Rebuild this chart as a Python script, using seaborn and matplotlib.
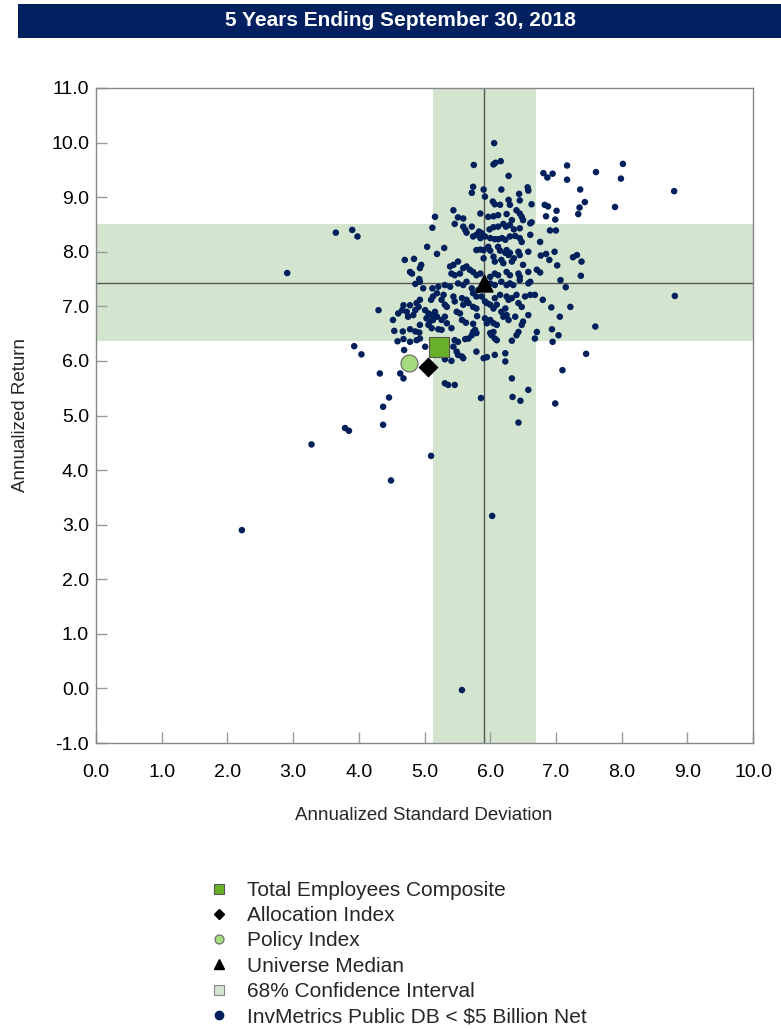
import matplotlib
matplotlib.use("Agg")
import matplotlib.pyplot as plt
from matplotlib import font_manager
from matplotlib.lines import Line2D
from matplotlib.patches import Rectangle
import seaborn as sns
import pandas as pd

# ---------------- data ----------------
title = "5 Years Ending September 30, 2018"
x_label = "Annualized Standard Deviation"
y_label = "Annualized Return"
x_ticks = [0.0, 1.0, 2.0, 3.0, 4.0, 5.0, 6.0, 7.0, 8.0, 9.0, 10.0]
y_ticks = [-1.0, 0.0, 1.0, 2.0, 3.0, 4.0, 5.0, 6.0, 7.0, 8.0, 9.0, 10.0, 11.0]

universe_sd = [
    5.74, 5.72, 5.90, 5.92, 6.17, 6.57, 6.58, 6.44, 6.04, 6.07, 6.15, 6.28, 6.30, 6.45, 6.63,
    5.44, 5.85, 5.97, 6.05, 6.12, 6.25, 6.40, 6.45, 6.48, 6.50, 6.61, 6.63, 5.51, 5.59, 5.46,
    5.59, 5.62, 5.64, 5.72, 5.87, 5.83, 5.99, 6.05, 6.12, 6.20, 6.24, 6.30, 6.33, 6.36, 6.45,
    5.74, 5.79, 5.85, 5.92, 6.00, 6.07, 6.12, 6.18, 6.23, 6.30, 6.38, 6.45, 6.48, 6.61, 5.30,
    5.79, 5.85, 5.90, 5.97, 6.00, 6.12, 6.15, 6.25, 6.30, 6.28, 6.23, 6.43, 6.45, 6.58, 5.90,
    6.05, 6.07, 6.17, 6.20, 6.33, 6.36, 6.50, 5.51, 5.44, 5.39, 5.59, 5.64, 5.69, 5.74, 5.54,
    5.46, 5.41, 5.79, 5.85, 6.07, 6.12, 6.25, 6.30, 6.43, 6.45, 6.00, 6.58, 6.71, 6.76,
    5.31, 5.39, 5.51, 5.59, 5.64, 5.72, 5.74, 5.79, 5.82, 6.00, 6.07, 6.17, 6.25, 6.30, 6.35,
    6.45, 6.58, 6.61, 5.29, 5.26, 5.44, 5.46, 5.57, 5.64, 5.87, 5.92, 5.95, 6.07, 6.15, 6.25,
    6.28, 6.33, 6.40, 6.53, 6.61, 6.68, 6.43, 6.48, 5.31, 5.34, 5.49, 5.59, 5.67, 5.74, 5.79,
    6.00, 6.05, 6.10, 6.17, 6.23, 6.25, 5.31, 5.26, 5.34, 5.54, 5.57, 5.80, 5.92, 5.95, 6.00,
    5.63, 5.74, 6.05, 6.10, 6.20, 6.28, 6.38, 6.58, 6.48, 6.50, 5.74, 5.79, 5.72, 5.77, 6.05,
    6.02, 6.00, 6.43, 6.40, 5.41, 5.26, 6.71, 6.07, 6.10, 6.33, 5.46, 5.51, 5.62, 5.67, 5.44,
    6.68, 5.49, 5.51, 5.57, 5.59, 5.79, 6.23, 5.31, 5.41, 5.90, 5.95, 6.07, 6.23,
    5.75, 5.16, 5.12, 5.04, 5.19, 3.65, 3.90, 3.98, 4.70, 4.84, 4.95, 4.93, 4.78, 4.81, 4.92,
    6.06, 6.05, 6.08, 6.16, 6.28, 6.81, 6.87, 6.95, 7.17, 7.17, 7.61, 8.02, 7.99, 7.37, 7.44,
    7.36, 7.34, 7.90, 6.83, 6.88, 7.01, 6.85, 6.99, 6.91, 7.00, 6.77, 6.85, 6.90, 6.98, 7.02,
    7.26, 7.32, 7.39, 7.38, 6.76,
    4.86, 4.93, 4.98, 5.12, 5.21, 5.19, 5.13, 5.10, 4.93, 4.88, 4.91, 4.86, 4.78, 4.68, 4.66,
    4.60, 4.30, 4.52, 4.73, 4.75, 4.83, 5.01, 5.06, 5.11, 5.16, 5.03, 5.08, 5.13, 5.19, 5.06,
    5.11, 4.54, 4.67, 4.78, 4.86, 4.92, 4.93, 5.21, 4.59, 4.68, 4.78, 4.88, 4.93, 5.01, 4.69,
    4.04, 3.93, 4.32, 4.63, 4.68, 4.46, 4.37, 5.31, 5.36, 5.46, 5.86,
    7.07, 7.15, 6.80, 6.93, 7.22, 7.06, 7.60, 6.94, 7.04, 6.95, 7.46, 7.10, 6.99, 6.33, 6.58,
    6.34, 6.46, 6.43, 4.37, 3.79, 3.85, 3.28, 5.10, 4.49, 6.03, 2.22, 2.91, 5.57, 8.80, 8.81,
]
universe_ret = [
    9.19, 9.08, 9.14, 9.01, 9.14, 9.18, 9.12, 9.06, 8.92, 8.87, 8.86, 8.95, 8.86, 8.94, 8.87,
    8.76, 8.70, 8.64, 8.65, 8.67, 8.69, 8.76, 8.70, 8.64, 8.58, 8.52, 8.54, 8.63, 8.61, 8.51,
    8.46, 8.40, 8.35, 8.46, 8.34, 8.37, 8.41, 8.45, 8.46, 8.51, 8.46, 8.49, 8.58, 8.41, 8.43,
    8.28, 8.31, 8.25, 8.28, 8.25, 8.23, 8.23, 8.25, 8.22, 8.28, 8.29, 8.25, 8.18, 8.31, 8.07,
    8.03, 8.04, 8.03, 8.09, 8.02, 8.09, 8.02, 8.03, 7.98, 7.94, 7.98, 8.00, 7.94, 8.00, 7.88,
    7.91, 7.82, 7.85, 7.79, 7.82, 7.88, 7.76, 7.82, 7.76, 7.73, 7.70, 7.73, 7.67, 7.63, 7.60,
    7.57, 7.60, 7.57, 7.60, 7.60, 7.57, 7.63, 7.57, 7.60, 7.54, 7.54, 7.63, 7.67, 8.18,
    7.39, 7.36, 7.42, 7.39, 7.45, 7.33, 7.24, 7.18, 7.30, 7.42, 7.39, 7.45, 7.39, 7.42, 7.39,
    7.48, 7.42, 7.45, 7.21, 7.12, 7.18, 7.09, 7.15, 7.12, 7.18, 7.09, 7.06, 7.15, 7.21, 7.18,
    7.12, 7.15, 7.21, 7.18, 7.21, 7.21, 7.06, 6.99, 7.03, 6.99, 6.90, 7.03, 7.06, 6.99, 6.96,
    7.03, 6.96, 7.03, 6.90, 6.96, 6.84, 6.81, 6.75, 6.69, 6.87, 6.75, 6.82, 6.78, 6.69, 6.75,
    6.70, 6.68, 6.69, 6.66, 6.81, 6.75, 6.81, 6.84, 6.66, 6.72, 6.53, 6.51, 6.47, 6.57, 6.53,
    6.47, 6.51, 6.53, 6.47, 6.60, 6.57, 6.53, 6.41, 6.38, 6.37, 6.38, 6.35, 6.40, 6.41, 6.26,
    6.41, 6.17, 6.11, 6.08, 6.05, 6.17, 6.14, 6.03, 6.00, 6.05, 6.07, 6.11, 5.99,
    9.59, 8.64, 8.44, 8.09, 7.96, 8.35, 8.40, 8.28, 7.85, 7.87, 7.76, 7.70, 7.63, 7.60, 7.50,
    9.99, 9.60, 9.63, 9.66, 9.39, 9.44, 9.36, 9.43, 9.58, 9.32, 9.46, 9.61, 9.34, 9.14, 8.91,
    8.81, 8.69, 8.82, 8.86, 8.83, 8.75, 8.65, 8.59, 8.39, 8.39, 7.93, 7.96, 7.85, 8.00, 7.75,
    7.90, 7.94, 7.82, 7.56, 7.62,
    7.41, 7.45, 7.33, 7.33, 7.36, 7.24, 7.18, 7.12, 7.12, 7.06, 6.99, 6.93, 7.02, 7.02, 6.93,
    6.87, 6.93, 6.75, 6.90, 6.81, 6.84, 6.93, 6.87, 6.84, 6.90, 6.78, 6.72, 6.75, 6.81, 6.66,
    6.60, 6.55, 6.54, 6.58, 6.54, 6.52, 6.66, 6.58, 6.36, 6.40, 6.35, 6.38, 6.41, 6.26, 6.20,
    6.12, 6.27, 5.77, 5.77, 5.68, 5.33, 5.16, 5.59, 5.56, 5.56, 5.32,
    7.48, 7.35, 7.12, 6.98, 6.99, 6.81, 6.63, 6.58, 6.47, 6.35, 6.13, 5.83, 5.22, 5.68, 5.47,
    5.34, 5.27, 4.87, 4.83, 4.77, 4.72, 4.47, 4.26, 3.81, 3.16, 2.90, 7.61, -0.03, 9.11, 7.19,
]

composite = (5.22, 6.25)      # Total Employees Composite
allocation = (5.06, 5.89)     # Allocation Index
policy = (4.76, 5.97)         # Policy Index
median = (5.91, 7.43)         # Universe Median
ci_sd = (5.13, 6.69)          # 68% confidence interval, std dev
ci_ret = (6.36, 8.51)         # 68% confidence interval, return

legend_labels = ["Total Employees Composite", "Allocation Index", "Policy Index",
                 "Universe Median", "68% Confidence Interval",
                 "InvMetrics Public DB < $5 Billion Net"]

# ---------------- style ----------------
navy = "#00205B"
band = "#D3E5CF"
green = "#6AAF28"
lightgreen = "#A6DC7E"

sns.set_theme(style="white")
names = {f.name for f in font_manager.fontManager.ttflist}
narrow = "Liberation Sans Narrow" if "Liberation Sans Narrow" in names else "Liberation Sans"
regular = "Liberation Sans" if "Liberation Sans" in names else "DejaVu Sans"
plt.rcParams["font.family"] = [regular, "DejaVu Sans"]

fig = plt.figure(figsize=(7.81, 10.29), dpi=100)
W, H = 781, 1029
ax = fig.add_axes([96 / W, 1 - 743 / H, 657 / W, 655 / H])

# confidence bands (same colour, overlap not darker)
ax.axvspan(ci_sd[0], ci_sd[1], color=band, lw=0, zorder=0)
ax.axhspan(ci_ret[0], ci_ret[1], color=band, lw=0, zorder=0)
ax.axvline(median[0], color="#555555", lw=1.0, zorder=1)
ax.axhline(median[1], color="#555555", lw=1.0, zorder=1)

df = pd.DataFrame({"sd": universe_sd, "ret": universe_ret})
sns.scatterplot(data=df, x="sd", y="ret", ax=ax, color=navy, s=22,
                edgecolor="none", legend=False, zorder=2)

sns.scatterplot(x=[median[0]], y=[median[1]], ax=ax, marker="^", color="black",
                s=150, edgecolor="black", legend=False, zorder=4)
sns.scatterplot(x=[policy[0]], y=[policy[1]], ax=ax, marker="o", color=lightgreen,
                s=150, edgecolor="#666666", linewidth=0.8, legend=False, zorder=4)
sns.scatterplot(x=[allocation[0]], y=[allocation[1]], ax=ax, marker="D", color="black",
                s=90, edgecolor="black", legend=False, zorder=4)
sns.scatterplot(x=[composite[0]], y=[composite[1]], ax=ax, marker="s", color=green,
                s=210, edgecolor="#555555", linewidth=0.8, legend=False, zorder=5)

ax.set_xlim(0, 10)
ax.set_ylim(-1, 11)
ax.set_xticks(x_ticks)
ax.set_yticks(y_ticks)
ax.set_xticklabels([f"{v:.1f}" for v in x_ticks], fontfamily=narrow, fontsize=14)
ax.set_yticklabels([f"{v:.1f}" for v in y_ticks], fontfamily=narrow, fontsize=14)
ax.tick_params(axis="x", bottom=True, direction="in", length=8, width=1,
               color="#999999", pad=15, labelcolor="black")
ax.tick_params(axis="y", left=True, direction="in", length=8, width=1,
               color="#999999", pad=5, labelcolor="black")
for s in ax.spines.values():
    s.set_color("#888888")
    s.set_linewidth(1.0)
ax.set_xlabel("")
ax.set_ylabel("")

fig.text(424 / W, 1 - 816 / H, x_label, ha="center", va="center",
         fontsize=13.5, fontfamily=narrow)
fig.text(21 / W, 1 - 415 / H, y_label, ha="center", va="center", rotation=90,
         fontsize=13.5, fontfamily=narrow)

# title bar
fig.patches.append(Rectangle((18 / W, 1 - 38 / H), (W - 18) / W, 34 / H,
                             transform=fig.transFigure, facecolor="#002060",
                             edgecolor="none"))
fig.text(400 / W, 1 - 21 / H, title, ha="center", va="center", color="white",
         fontsize=15, fontweight="bold", fontfamily=narrow)

# legend
handles = [
    Line2D([], [], ls="none", marker="s", markersize=6.5, markerfacecolor=green,
           markeredgecolor="#555555", markeredgewidth=0.8),
    Line2D([], [], ls="none", marker="D", markersize=5, markerfacecolor="black",
           markeredgecolor="black"),
    Line2D([], [], ls="none", marker="o", markersize=6.5, markerfacecolor=lightgreen,
           markeredgecolor="#666666", markeredgewidth=0.8),
    Line2D([], [], ls="none", marker="^", markersize=6.5, markerfacecolor="black",
           markeredgecolor="black"),
    Line2D([], [], ls="none", marker="s", markersize=6.5, markerfacecolor=band,
           markeredgecolor="#888888", markeredgewidth=0.8),
    Line2D([], [], ls="none", marker="o", markersize=6, markerfacecolor=navy,
           markeredgecolor=navy),
]
fig.legend(handles, legend_labels, loc="upper left",
           bbox_to_anchor=(211 / W, 1 - 881 / H), frameon=False,
           prop={"family": regular, "size": 15}, labelspacing=0.30,
           handletextpad=0.93, borderaxespad=0, borderpad=0, handlelength=0.8)

fig.savefig("out.png", dpi=100)
